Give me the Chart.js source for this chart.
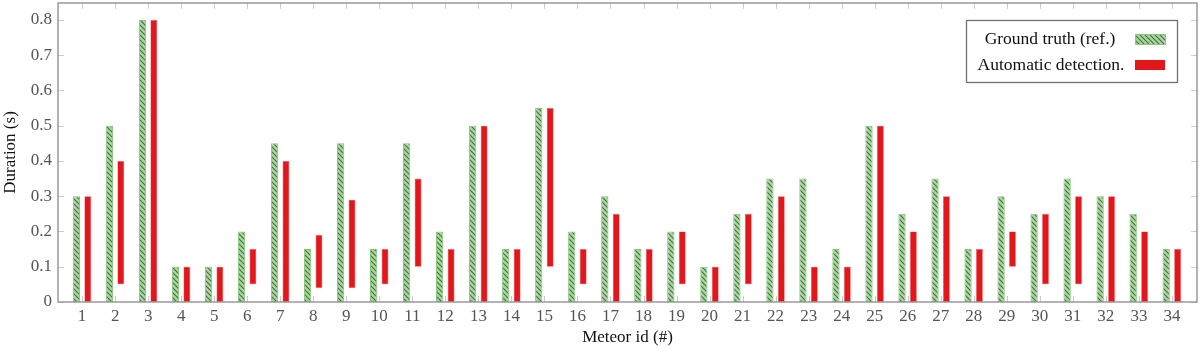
<!DOCTYPE html>
<html>
<head>
<meta charset="utf-8">
<script src="https://cdn.jsdelivr.net/npm/chart.js@4/dist/chart.umd.min.js"></script>
<style>
  html, body { margin: 0; padding: 0; background: #fff; }
  canvas { display: block; }
</style>
</head>
<body>
<canvas id="myChart" width="1200" height="350"></canvas>
<script>
// Meteor ids along the x axis
var meteorIds = [1,2,3,4,5,6,7,8,9,10,11,12,13,14,15,16,17,18,19,20,21,22,23,24,25,26,27,28,29,30,31,32,33,34];
// Ground truth duration (s)
var groundTruth = [0.3,0.5,0.8,0.1,0.1,0.2,0.45,0.15,0.45,0.15,0.45,0.2,0.5,0.15,0.55,0.2,0.3,0.15,0.2,0.1,0.25,0.35,0.35,0.15,0.5,0.25,0.35,0.15,0.3,0.25,0.35,0.3,0.25,0.15];
// Automatic detection, start and end of each floating bar
var detStart = [0,0.05,0,0,0,0.05,0,0.04,0.04,0.05,0.1,0,0,0,0.1,0.05,0,0,0.05,0,0.05,0,0,0,0,0,0,0,0.1,0.05,0.05,0,0,0];
var detEnd = [0.3,0.4,0.8,0.1,0.1,0.15,0.4,0.19,0.29,0.15,0.35,0.15,0.5,0.15,0.55,0.15,0.25,0.15,0.2,0.1,0.25,0.3,0.1,0.1,0.5,0.2,0.3,0.15,0.2,0.25,0.3,0.3,0.2,0.15];
// y tick labels
var yTicks = [0,0.1,0.2,0.3,0.4,0.5,0.6,0.7,0.8];

var serif = "'Liberation Serif', 'DejaVu Serif', serif";
var axisGray = '#8a8a8a';
var redColor = '#e3161b';

// hatch pattern for the ground truth bars
function makeHatch() {
  var c = document.createElement('canvas');
  c.width = 5; c.height = 5;
  var g = c.getContext('2d');
  g.fillStyle = '#a8d69e';
  g.fillRect(0, 0, 5, 5);
  g.strokeStyle = '#466f45';
  g.lineWidth = 1.1;
  g.beginPath();
  g.moveTo(-1, -1); g.lineTo(6, 6);
  g.moveTo(-1, 4); g.lineTo(1, 6);
  g.moveTo(4, -1); g.lineTo(6, 1);
  g.stroke();
  return document.getElementById('myChart').getContext('2d').createPattern(c, 'repeat');
}
var hatch = makeHatch();

var gtData = [];
var detData = [];
for (var i = 0; i < meteorIds.length; i++) {
  gtData.push({x: meteorIds[i], y: groundTruth[i]});
  detData.push({x: meteorIds[i], y: [detStart[i], detEnd[i]]});
}

// pgfplots-like frame, inward ticks and legend
var framePlugin = {
  id: 'frame',
  afterDatasetsDraw: function(chart) {
    var ctx = chart.ctx;
    var a = chart.chartArea;
    var xs = chart.scales.x, ys = chart.scales.y;
    ctx.save();
    ctx.strokeStyle = '#cccccc';
    ctx.lineWidth = 1;
    ctx.beginPath();
    meteorIds.forEach(function(v) {
      var px = Math.round(xs.getPixelForValue(v)) + 0.5;
      ctx.moveTo(px, a.top); ctx.lineTo(px, a.top + 6);
      ctx.moveTo(px, a.bottom); ctx.lineTo(px, a.bottom - 6);
    });
    yTicks.forEach(function(v) {
      var py = Math.round(ys.getPixelForValue(v)) + 0.5;
      ctx.moveTo(a.left, py); ctx.lineTo(a.left + 6, py);
      ctx.moveTo(a.right, py); ctx.lineTo(a.right - 6, py);
    });
    ctx.stroke();
    ctx.strokeStyle = axisGray;
    ctx.lineWidth = 1.3;
    ctx.strokeRect(a.left, a.top, a.right - a.left, a.bottom - a.top);

    // legend
    var lx = 966, ly = 20, lw = 211, lh = 62;
    ctx.fillStyle = '#fff';
    ctx.fillRect(lx, ly, lw, lh);
    ctx.strokeStyle = '#707070';
    ctx.lineWidth = 1.3;
    ctx.strokeRect(lx + 0.5, ly + 0.5, lw, lh);
    ctx.font = '17.5px ' + serif;
    ctx.fillStyle = '#111';
    ctx.textAlign = 'center';
    ctx.textBaseline = 'middle';
    var ds = chart.data.datasets;
    ctx.fillText(ds[0].label, 1050, 39);
    ctx.fillText(ds[1].label, 1051, 65);
    ctx.fillStyle = hatch;
    ctx.fillRect(1135, 34, 30, 10);
    ctx.strokeStyle = '#8bc97d';
    ctx.lineWidth = 1;
    ctx.strokeRect(1135.5, 34.5, 30, 10);
    ctx.fillStyle = redColor;
    ctx.fillRect(1135, 60, 30, 10);
    ctx.restore();
  }
};

var ctx = document.getElementById('myChart');
var myChart = new Chart(ctx, {
  type: 'bar',
  data: {
    datasets: [
      {
        label: 'Ground truth (ref.)',
        data: gtData,
        backgroundColor: hatch,
        borderColor: '#82c873',
        borderWidth: 1,
        borderSkipped: false,
        categoryPercentage: 0.69,
        barPercentage: 0.64
      },
      {
        label: 'Automatic detection.',
        data: detData,
        backgroundColor: redColor,
        borderColor: '#ee5a5c',
        borderWidth: 0.6,
        borderSkipped: false,
        categoryPercentage: 0.69,
        barPercentage: 0.6
      }
    ]
  },
  options: {
    responsive: false,
    animation: false,
    devicePixelRatio: 1,
    layout: { padding: { top: 3, right: 3, left: 0, bottom: 0 } },
    plugins: {
      legend: { display: false },
      tooltip: { enabled: false }
    },
    scales: {
      x: {
        type: 'linear',
        offset: false,
        min: 0.27,
        max: 34.76,
        grid: { display: false, drawTicks: false },
        border: { display: false },
        afterBuildTicks: function(scale) {
          scale.ticks = meteorIds.map(function(v) { return {value: v}; });
        },
        afterFit: function(scale) {
          scale.height = 48;
          scale.paddingLeft = 0;
          scale.paddingRight = 0;
        },
        ticks: {
          autoSkip: false,
          maxRotation: 0,
          padding: 4,
          color: '#555',
          font: { family: serif, size: 17 }
        },
        title: {
          display: true,
          text: 'Meteor id (#)',
          color: '#111',
          padding: { top: 0, bottom: 2 },
          font: { family: serif, size: 17 }
        }
      },
      y: {
        min: 0,
        max: 0.848,
        grid: { display: false, drawTicks: false },
        border: { display: false },
        afterBuildTicks: function(scale) {
          scale.ticks = yTicks.map(function(v) { return {value: v}; });
        },
        afterFit: function(scale) {
          scale.width = 58;
          scale.paddingTop = 0;
          scale.paddingBottom = 0;
        },
        ticks: {
          autoSkip: false,
          padding: 6,
          color: '#555',
          font: { family: serif, size: 17 },
          callback: function(v) { return String(v); }
        },
        title: {
          display: true,
          text: 'Duration (s)',
          color: '#111',
          padding: { top: 0, bottom: 0 },
          font: { family: serif, size: 17 }
        }
      }
    }
  },
  plugins: [framePlugin]
});
</script>
</body>
</html>
